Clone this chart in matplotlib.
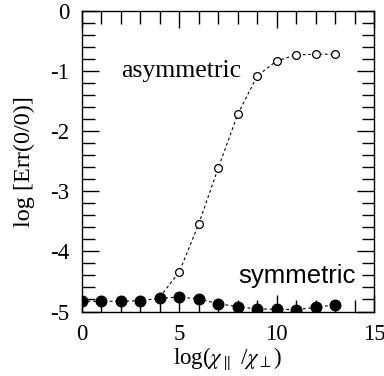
import matplotlib
matplotlib.use("Agg")
import matplotlib.pyplot as plt
from matplotlib.ticker import MultipleLocator

plt.rcParams['font.family'] = ['Liberation Serif', 'DejaVu Serif']
plt.rcParams['mathtext.fontset'] = 'stix'
plt.rcParams['axes.unicode_minus'] = False

x_asym = [4, 5, 6, 7, 8, 9, 10, 11, 12, 13]
y_asym = [-4.76, -4.34, -3.54, -2.61, -1.72, -1.08, -0.83, -0.73, -0.72, -0.72]

x_sym = [0, 1, 2, 3, 4, 5, 6, 7, 8, 9, 10, 11, 12, 13]
y_sym = [-4.83, -4.83, -4.83, -4.82, -4.78, -4.76, -4.79, -4.87, -4.92, -4.96, -4.96, -4.97, -4.93, -4.89]

fig = plt.figure(figsize=(3.84, 3.76), dpi=100)
ax = fig.add_axes([82/384, 1-311.5/376, (374-82)/384, (311.5-11)/376])

ax.plot(x_asym, y_asym, color='black', lw=0.8, ls=(0, (2.5, 2.5)),
        marker='o', ms=5.6, mfc='white', mec='black', mew=0.9, zorder=3)
ax.plot(x_sym, y_sym, color='black', lw=0.8, ls=(0, (2.5, 2.5)),
        marker='o', ms=7.6, mfc='black', mec='black', zorder=4)

ax.set_xlim(0, 15)
ax.set_ylim(-5, 0)
ax.xaxis.set_major_locator(MultipleLocator(5))
ax.xaxis.set_minor_locator(MultipleLocator(1))
ax.yaxis.set_major_locator(MultipleLocator(1))
ax.yaxis.set_minor_locator(MultipleLocator(0.2))
ax.tick_params(which='both', direction='in', top=True, right=True, width=1.0)
ax.tick_params(which='major', length=12, labelsize=16.5, pad=9)
ax.tick_params(which='minor', length=9)
for s in ax.spines.values():
    s.set_linewidth(1.0)

ax.text(5.1, -1.09, 'asymmetric', fontsize=18.5, ha='center', va='baseline',
        family=['Liberation Serif'])
ax.text(11.05, -4.53, 'symmetric', fontsize=18.5, ha='center', va='baseline',
        family=['Liberation Sans'])

ax.set_xlabel(r'log($\chi_{\parallel}$ /$\chi_{\perp}$)', fontsize=16.5, labelpad=0)
ax.set_ylabel('log [Err(0/0)]', fontsize=17.5, labelpad=11)

fig.savefig('out.png', dpi=100)
